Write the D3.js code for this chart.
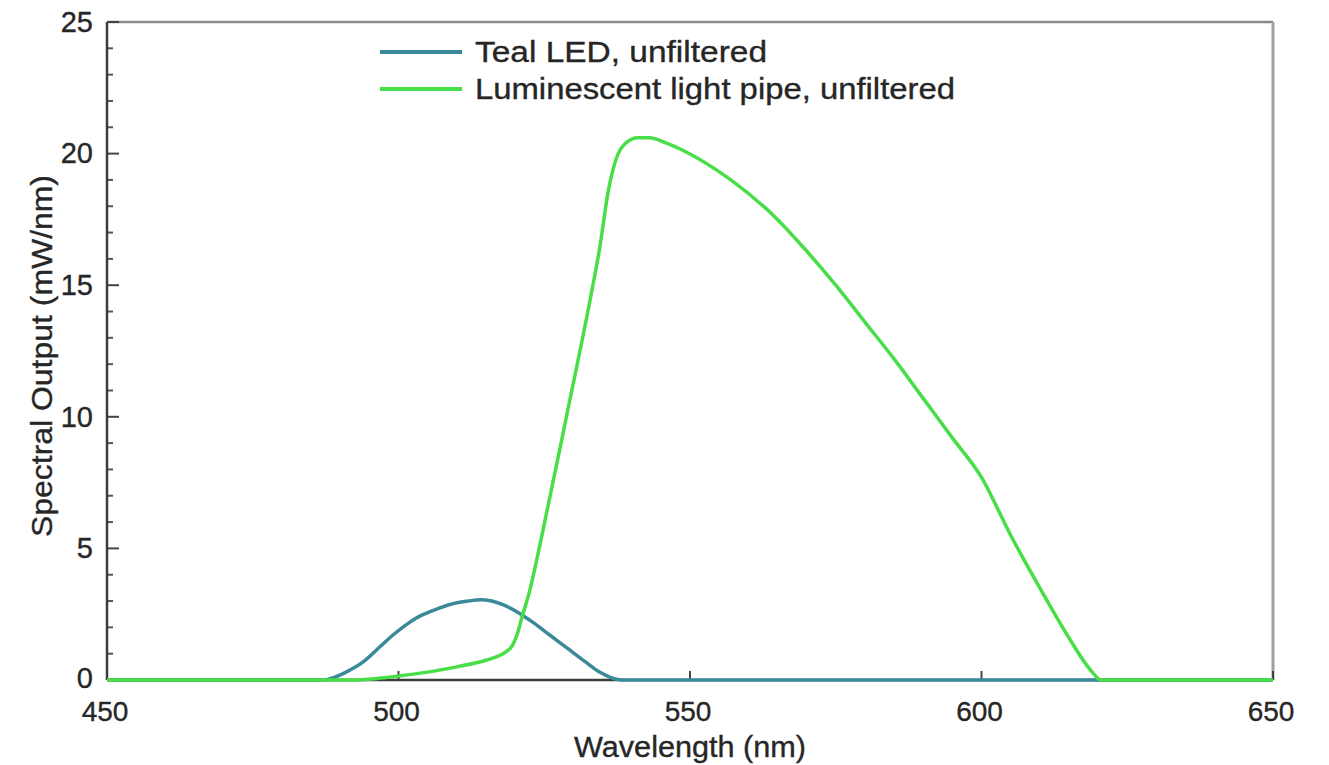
<!DOCTYPE html>
<html>
<head>
<meta charset="utf-8">
<script src="https://cdn.jsdelivr.net/npm/d3@7"></script>
<style>
  html, body { margin: 0; padding: 0; background: #fff; }
  svg { display: block; }
  text { font-family: "Liberation Sans", Arial, Helvetica, sans-serif; fill: #262626; stroke: #262626; stroke-width: 0.35px; }
</style>
</head>
<body>
<svg id="chart" width="1329" height="765"></svg>
<script>
// Wavelength samples (nm) and spectral output (mW/nm) for each source
const tealWavelengths = [450, 470, 487, 489, 491, 494, 497, 499, 501, 503, 506, 509, 512, 514, 516, 518, 521, 523, 526, 529, 532, 534.5, 537, 538.5, 560, 650];
const tealValues      = [0,   0,   0,   0.1, 0.3, 0.7, 1.3, 1.7, 2.05, 2.35, 2.65, 2.88, 3.0, 3.05, 3.0, 2.85, 2.5, 2.2, 1.7, 1.2, 0.7, 0.3, 0.05, 0, 0, 0];

const greenWavelengths = [450, 480, 492, 496, 500, 505, 510, 515, 517.5, 518.5, 519.5, 520.3, 521.2, 522.4, 524.7, 528.8, 533, 534.5, 536, 537.5, 539, 541, 543, 546, 549, 557, 565, 570, 575, 580, 585, 590, 595, 600, 605, 610, 615, 619, 620.5, 630, 650];
const greenValues      = [0,   0,   0,   0.05, 0.15, 0.3, 0.5, 0.75, 0.95, 1.08, 1.3, 1.7, 2.4, 3.3, 5.6, 10.0, 14.6, 16.4, 18.6, 19.9, 20.4, 20.6, 20.6, 20.4, 20.1, 19.0, 17.5, 16.3, 15.0, 13.6, 12.2, 10.7, 9.2, 7.7, 5.5, 3.5, 1.6, 0.3, 0, 0, 0];

const xTickValues = [450, 500, 550, 600, 650];
const yTickValues = [0, 5, 10, 15, 20, 25];
const yMinorTickValues = d3.range(0, 26, 1);

const seriesNames = ["Teal LED, unfiltered", "Luminescent light pipe, unfiltered"];
const seriesColors = ["#3b8a9a", "#48de48"];

const svg = d3.select("#chart");
const plotLeft = 107, plotRight = 1273, plotTop = 22, plotBottom = 680;

const x = d3.scaleLinear().domain([450, 650]).range([plotLeft, plotRight]);
const y = d3.scaleLinear().domain([0, 25]).range([plotBottom, plotTop]);

// Frame: top and right edges in lighter grey
svg.append("line").attr("x1", plotLeft).attr("x2", plotRight).attr("y1", plotTop).attr("y2", plotTop)
  .attr("stroke", "#8a8a8a").attr("stroke-width", 2.5);
svg.append("line").attr("x1", plotRight).attr("x2", plotRight).attr("y1", plotTop).attr("y2", plotBottom)
  .attr("stroke", "#a0a0a0").attr("stroke-width", 3);

// Y axis: minor ticks every unit, major ticks every 5, all pointing inward
const yAxisG = svg.append("g");
yAxisG.selectAll("line.minor").data(yMinorTickValues.filter(v => v % 5 !== 0)).join("line")
  .attr("class", "minor")
  .attr("x1", plotLeft).attr("x2", plotLeft + 6)
  .attr("y1", d => y(d)).attr("y2", d => y(d))
  .attr("stroke", "#555").attr("stroke-width", 2);
yAxisG.selectAll("line.major").data(yTickValues).join("line")
  .attr("class", "major")
  .attr("x1", plotLeft).attr("x2", plotLeft + 12)
  .attr("y1", d => y(d)).attr("y2", d => y(d))
  .attr("stroke", "#444").attr("stroke-width", 2);
yAxisG.selectAll("text").data(yTickValues).join("text")
  .attr("x", plotLeft - 14).attr("y", d => y(d))
  .attr("dy", d => d === 0 ? "0.28em" : "0.34em")
  .attr("text-anchor", "end")
  .attr("font-size", 29)
  .text(d => d);

// X axis ticks point upward
const xAxisG = svg.append("g");
xAxisG.selectAll("line").data(xTickValues).join("line")
  .attr("x1", d => x(d)).attr("x2", d => x(d))
  .attr("y1", plotBottom).attr("y2", plotBottom - 9)
  .attr("stroke", "#444").attr("stroke-width", 2);
xAxisG.selectAll("text").data(xTickValues).join("text")
  .attr("x", d => x(d) - 2).attr("y", plotBottom + 41)
  .attr("text-anchor", "middle")
  .attr("font-size", 28)
  .text(d => d);

// Axis lines
svg.append("line").attr("x1", plotLeft).attr("x2", plotLeft).attr("y1", plotTop).attr("y2", plotBottom)
  .attr("stroke", "#3c3c3c").attr("stroke-width", 2.5);
svg.append("line").attr("x1", plotLeft).attr("x2", plotRight).attr("y1", plotBottom).attr("y2", plotBottom)
  .attr("stroke", "#3c3c3c").attr("stroke-width", 2.5);

// Axis titles
svg.append("text")
  .attr("x", (plotLeft + plotRight) / 2).attr("y", 757)
  .attr("text-anchor", "middle")
  .attr("font-size", 29)
  .attr("textLength", 232)
  .attr("lengthAdjust", "spacingAndGlyphs")
  .text("Wavelength (nm)");
svg.append("text")
  .attr("transform", "translate(52,356) rotate(-90)")
  .attr("text-anchor", "middle")
  .attr("font-size", 30)
  .attr("textLength", 362)
  .attr("lengthAdjust", "spacingAndGlyphs")
  .text("Spectral Output  (mW/nm)");

// Spectral curves
const line = d3.line()
  .x(d => x(d[0]))
  .y(d => y(d[1]))
  .curve(d3.curveMonotoneX);

const tealData = d3.zip(tealWavelengths, tealValues);
const greenData = d3.zip(greenWavelengths, greenValues);

svg.append("path").datum(tealData)
  .attr("d", line)
  .attr("fill", "none")
  .attr("stroke", seriesColors[0])
  .attr("stroke-width", 3.5)
  .attr("stroke-linejoin", "round");

svg.append("path").datum(greenData)
  .attr("d", line)
  .attr("fill", "none")
  .attr("stroke", seriesColors[1])
  .attr("stroke-width", 3.5)
  .attr("stroke-linejoin", "round");

// Legend
const legend = svg.append("g");
const legendY = [52, 89];
const legendTextWidth = [292, 480];
seriesNames.forEach((name, i) => {
  legend.append("line")
    .attr("x1", 380).attr("x2", 462)
    .attr("y1", legendY[i]).attr("y2", legendY[i])
    .attr("stroke", seriesColors[i]).attr("stroke-width", 4);
  legend.append("text")
    .attr("x", 475).attr("y", legendY[i])
    .attr("dy", "0.36em")
    .attr("font-size", 29)
    .attr("textLength", legendTextWidth[i])
    .attr("lengthAdjust", "spacingAndGlyphs")
    .text(name);
});
</script>
</body>
</html>
